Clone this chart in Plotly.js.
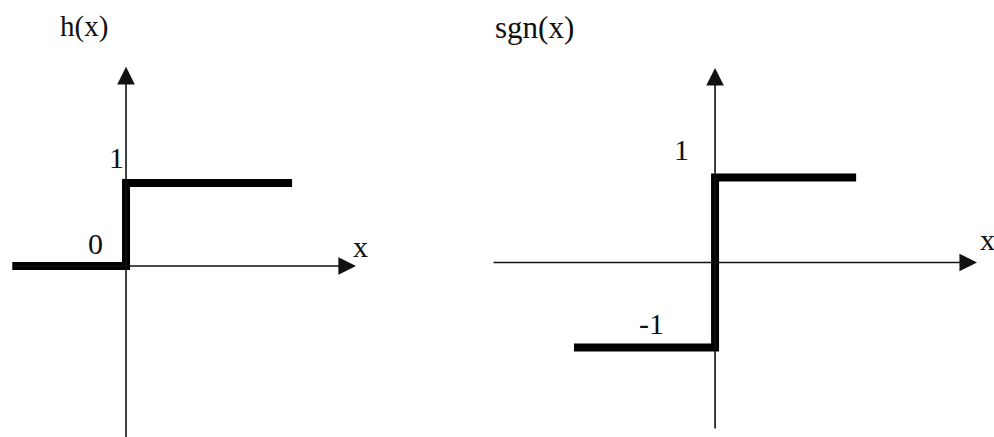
<!DOCTYPE html>
<html>
<head>
<meta charset="utf-8">
<script src="https://cdn.plot.ly/plotly-3.0.1.min.js"></script>
<style>html,body{margin:0;padding:0;background:#fff;}#chart{width:994px;height:437px;}</style>
</head>
<body>
<div id="chart"></div>
<script>
// Step function h(x) (Heaviside)
const hX = [-1.37, 0, 0, 2.0];
const hY = [0, 0, 1, 1];
// Signum function sgn(x)
const sgnX = [-1.7, 0, 0, 1.7];
const sgnY = [-1, -1, 1, 1];
// Level labels
const hLevels = [0, 1];
const hLevelLabels = ['0', '1'];
const sgnLevels = [1, -1];
const sgnLevelLabels = ['1', '-1'];
const titles = ['h(x)', 'sgn(x)'];
const axisLabel = 'x';

const FONT = 'Liberation Serif, Times New Roman, serif';
const thick = {color: '#000', width: 8};

const traces = [
  {x: hX, y: hY, xaxis: 'x', yaxis: 'y', mode: 'lines', line: thick, hoverinfo: 'skip', showlegend: false},
  {x: sgnX, y: sgnY, xaxis: 'x2', yaxis: 'y2', mode: 'lines', line: thick, hoverinfo: 'skip', showlegend: false}
];

function hiddenAxis(extra) {
  return Object.assign({showgrid: false, zeroline: false, showticklabels: false, showline: false, ticks: '', fixedrange: true}, extra);
}

function arrow(xref, yref, x, y, ax, ay) {
  return {xref: xref, yref: yref, axref: xref, ayref: yref, x: x, y: y, ax: ax, ay: ay,
    text: '', showarrow: true, arrowhead: 2, arrowsize: 2.2, arrowwidth: 1.6, arrowcolor: '#111', standoff: 0, startstandoff: 0};
}
function label(xref, yref, x, y, text, size) {
  return {xref: xref, yref: yref, x: x, y: y, text: text, showarrow: false,
    font: {family: FONT, size: size || 30, color: '#111'}, xanchor: 'center', yanchor: 'middle'};
}

const annotations = [
  // left panel axes
  arrow('x', 'y', 0, 2.40, 0, -2.1),
  arrow('x', 'y', 2.77, 0, -1.37, 0),
  // right panel axes
  arrow('x2', 'y2', 0, 2.288, 0, -1.97),
  arrow('x2', 'y2', 3.157, 0, -2.687, 0),
  // labels
  label('x', 'y', -0.506, 2.88, titles[0], 29),
  label('x', 'y', -0.12, hLevels[1] + 0.31, hLevelLabels[1]),
  label('x', 'y', -0.373, hLevels[0] + 0.277, hLevelLabels[0]),
  label('x', 'y', 2.82, 0.24, axisLabel),
  label('x2', 'y2', -2.18, 2.77, titles[1], 31),
  label('x2', 'y2', -0.41, sgnLevels[0] + 0.335, sgnLevelLabels[0]),
  label('x2', 'y2', -0.77, sgnLevels[1] + 0.28, sgnLevelLabels[1]),
  label('x2', 'y2', 3.28, 0.265, axisLabel)
];

const layout = {
  width: 994, height: 437,
  margin: {l: 0, r: 0, t: 0, b: 0},
  paper_bgcolor: '#fff', plot_bgcolor: '#fff',
  showlegend: false, hovermode: false,
  xaxis: hiddenAxis({domain: [0, 0.48], range: [-126/83, (477-126)/83]}),
  yaxis: hiddenAxis({domain: [0, 1], range: [-(437-266)/83, 266/83]}),
  xaxis2: hiddenAxis({domain: [0.48, 1], range: [(477-715)/83, (994-715)/83]}),
  yaxis2: hiddenAxis({domain: [0, 1], range: [-(437-262.5)/85, 262.5/85], anchor: 'x2'}),
  annotations: annotations
};
layout.xaxis2.anchor = 'y2';

Plotly.newPlot('chart', traces, layout, {displayModeBar: false, staticPlot: true});
</script>
</body>
</html>
